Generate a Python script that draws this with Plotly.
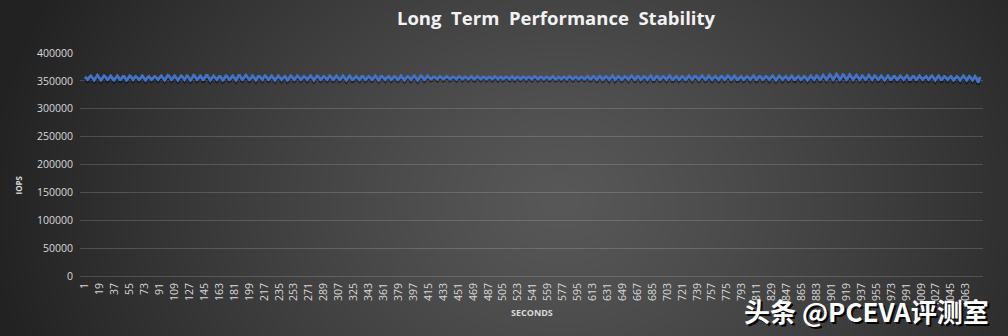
import base64
import struct
import zlib

import numpy as np
import plotly.graph_objects as go

# IOPS sampled once per second, in thousands (1080 samples)
iops_k = [
    357, 356, 354, 352, 353, 356, 358, 359, 357, 354, 352, 351, 353, 356, 358, 360, 358, 355,
    353, 351, 352, 355, 357, 359, 358, 356, 353, 352, 353, 355, 358, 359, 357, 354, 352, 351,
    353, 356, 358, 359, 357, 354, 352, 352, 354, 357, 358, 358, 356, 353, 351, 352, 355, 357,
    359, 358, 355, 353, 352, 354, 356, 358, 357, 355, 353, 352, 353, 356, 358, 359, 357, 354,
    352, 351, 353, 356, 357, 358, 356, 354, 352, 353, 355, 357, 358, 357, 355, 353, 352, 354,
    356, 358, 359, 357, 354, 352, 351, 353, 356, 358, 360, 359, 356, 353, 352, 353, 356, 358,
    359, 357, 355, 352, 351, 353, 355, 358, 359, 358, 355, 353, 352, 354, 357, 359, 358, 356,
    353, 351, 352, 355, 358, 360, 359, 356, 353, 352, 353, 356, 358, 359, 357, 354, 352, 352,
    354, 357, 359, 361, 358, 355, 352, 351, 353, 356, 358, 359, 357, 355, 353, 352, 354, 357,
    358, 358, 356, 353, 351, 352, 355, 357, 359, 358, 355, 353, 352, 353, 356, 358, 359, 357,
    354, 352, 351, 353, 356, 359, 361, 358, 355, 353, 352, 354, 357, 359, 360, 358, 355, 353,
    352, 353, 356, 358, 359, 357, 354, 352, 351, 353, 356, 358, 358, 356, 354, 352, 352, 355,
    357, 359, 358, 356, 353, 352, 353, 355, 358, 359, 357, 354, 352, 351, 353, 356, 358, 359,
    357, 355, 353, 352, 354, 356, 358, 358, 356, 353, 351, 352, 355, 357, 359, 358, 355, 353,
    352, 353, 356, 358, 359, 358, 355, 353, 352, 353, 355, 357, 358, 357, 355, 353, 352, 354,
    356, 358, 359, 357, 354, 352, 351, 353, 356, 358, 359, 358, 356, 353, 352, 353, 356, 357,
    358, 357, 355, 353, 352, 354, 357, 359, 358, 355, 353, 352, 353, 355, 358, 359, 357, 355,
    353, 352, 353, 356, 358, 359, 357, 354, 352, 351, 353, 356, 358, 359, 357, 354, 352, 352,
    354, 356, 358, 358, 356, 354, 352, 352, 354, 357, 358, 358, 356, 353, 352, 353, 355, 357,
    358, 357, 355, 353, 352, 353, 356, 358, 359, 357, 354, 352, 351, 353, 356, 358, 358, 356,
    354, 352, 352, 354, 356, 358, 358, 356, 353, 352, 353, 355, 357, 358, 357, 355, 353, 352,
    353, 356, 358, 359, 357, 354, 352, 351, 353, 355, 357, 358, 357, 355, 353, 352, 354, 356,
    358, 359, 357, 354, 352, 351, 353, 356, 358, 359, 358, 355, 353, 352, 353, 356, 358, 359,
    357, 355, 353, 353, 354, 356, 357, 357, 356, 354, 353, 353, 355, 357, 358, 357, 355, 354,
    353, 354, 356, 357, 358, 357, 355, 353, 353, 354, 356, 357, 357, 356, 354, 353, 353, 355,
    357, 358, 357, 355, 354, 353, 354, 356, 357, 357, 355, 354, 353, 354, 356, 357, 358, 356,
    354, 353, 353, 355, 357, 358, 357, 355, 354, 353, 354, 356, 357, 357, 356, 354, 353, 354,
    356, 357, 357, 355, 354, 353, 354, 356, 358, 357, 355, 353, 353, 355, 357, 357, 356, 354,
    353, 354, 356, 357, 357, 356, 354, 353, 353, 355, 357, 358, 356, 354, 353, 354, 356, 357,
    357, 355, 354, 353, 354, 356, 357, 357, 355, 354, 353, 355, 356, 357, 356, 355, 353, 353,
    355, 357, 358, 357, 355, 353, 353, 354, 356, 357, 357, 356, 354, 353, 354, 356, 357, 357,
    355, 354, 353, 354, 356, 357, 358, 356, 354, 353, 353, 355, 357, 357, 356, 354, 353, 354,
    356, 357, 357, 355, 354, 353, 355, 356, 358, 357, 355, 354, 353, 354, 356, 357, 357, 355,
    354, 353, 354, 356, 357, 357, 356, 354, 353, 354, 356, 357, 358, 356, 354, 353, 353, 355,
    357, 358, 357, 355, 353, 352, 353, 356, 358, 358, 356, 354, 352, 353, 355, 357, 358, 357,
    355, 353, 352, 354, 356, 358, 359, 357, 354, 352, 353, 355, 357, 358, 357, 355, 353, 352,
    353, 355, 357, 358, 357, 355, 353, 352, 354, 356, 358, 359, 357, 355, 353, 352, 353, 356,
    358, 358, 356, 354, 352, 353, 355, 357, 358, 357, 355, 353, 352, 354, 356, 358, 359, 357,
    354, 352, 352, 354, 357, 358, 358, 356, 354, 352, 353, 355, 357, 358, 357, 355, 353, 352,
    354, 356, 358, 359, 357, 354, 352, 352, 354, 356, 358, 358, 356, 354, 352, 353, 355, 357,
    358, 357, 355, 353, 352, 353, 356, 358, 359, 357, 355, 353, 352, 354, 357, 358, 358, 356,
    354, 352, 352, 354, 356, 358, 359, 357, 355, 353, 352, 353, 355, 358, 359, 357, 355, 353,
    352, 354, 356, 358, 358, 356, 354, 352, 352, 354, 357, 358, 358, 356, 353, 352, 353, 355,
    357, 359, 358, 356, 353, 352, 353, 355, 358, 359, 357, 354, 352, 352, 354, 356, 358, 358,
    356, 353, 352, 353, 355, 357, 358, 357, 355, 353, 352, 354, 356, 358, 359, 357, 354, 352,
    352, 354, 357, 358, 358, 356, 353, 352, 353, 355, 357, 358, 357, 355, 353, 352, 354, 356,
    358, 359, 357, 354, 352, 351, 353, 356, 358, 359, 357, 355, 353, 352, 354, 356, 358, 358,
    356, 353, 352, 353, 355, 358, 359, 357, 354, 352, 352, 354, 356, 358, 358, 356, 354, 352,
    353, 355, 357, 358, 357, 354, 352, 351, 353, 356, 358, 359, 357, 355, 353, 352, 354, 357,
    359, 358, 356, 353, 352, 353, 356, 358, 360, 358, 355, 353, 352, 354, 357, 359, 361, 359,
    356, 353, 352, 354, 357, 360, 362, 360, 357, 354, 352, 353, 356, 359, 361, 360, 357, 354,
    352, 353, 356, 359, 361, 359, 356, 353, 352, 354, 357, 359, 360, 358, 355, 353, 352, 354,
    357, 359, 358, 356, 353, 352, 353, 356, 358, 360, 358, 355, 353, 352, 354, 357, 359, 358,
    355, 353, 352, 353, 356, 358, 359, 357, 354, 352, 351, 353, 356, 358, 359, 357, 354, 352,
    352, 354, 357, 358, 358, 356, 353, 352, 353, 355, 358, 359, 357, 355, 353, 352, 354, 356,
    358, 359, 357, 354, 352, 352, 354, 357, 358, 358, 356, 353, 352, 353, 355, 358, 359, 357,
    355, 353, 352, 354, 356, 358, 358, 356, 353, 352, 353, 356, 358, 359, 357, 354, 352, 351,
    353, 356, 358, 359, 357, 354, 352, 352, 354, 357, 358, 357, 355, 353, 352, 354, 356, 358,
    358, 356, 353, 351, 352, 355, 357, 358, 357, 355, 352, 351, 353, 356, 358, 359, 357, 354,
    352, 351, 353, 356, 358, 357, 354, 352, 351, 353, 356, 358, 356, 352, 349, 347, 351, 357,
]
iops = [v * 1000 for v in iops_k]
seconds = list(range(1, len(iops) + 1))

# Category labels shown every 18 seconds
x_tick_vals = list(range(1, 1064, 18))
x_tick_text = [str(v) for v in x_tick_vals]
y_tick_vals = [0, 50000, 100000, 150000, 200000, 250000, 300000, 350000, 400000]
y_tick_text = [str(v) for v in y_tick_vals]

TITLE = "Long\u00a0 Term\u00a0 Performance\u00a0 Stability"
WATERMARK = "头条 @PCEVA评测室"

W, H = 1008, 336
L, R, T, B = 80, 25, 53, 60
PW, PH = W - L - R, H - T - B

LINE_BLUE = "#4472C4"
GRID = "rgba(255,255,255,0.16)"
TICK_FONT = "#d9d9d9"


def gray_png_uri(img):
    """Encode a 2-D uint8 array as a grayscale PNG data URI."""
    h, w = img.shape
    raw = b"".join(b"\x00" + img[r].tobytes() for r in range(h))

    def chunk(tag, data):
        c = struct.pack(">I", len(data)) + tag + data
        return c + struct.pack(">I", zlib.crc32(tag + data) & 0xFFFFFFFF)

    png = (b"\x89PNG\r\n\x1a\n"
           + chunk(b"IHDR", struct.pack(">IIBBBBB", w, h, 8, 0, 0, 0, 0))
           + chunk(b"IDAT", zlib.compress(raw, 9))
           + chunk(b"IEND", b""))
    return "data:image/png;base64," + base64.b64encode(png).decode()


# Radial dark-grey backdrop: lighter centre, darker edges
gw, gh = 504, 168
gx, gy = np.meshgrid(np.arange(gw) * 2.0, np.arange(gh) * 2.0)
dist = np.sqrt(((gx - 560) / 560.0) ** 2 + ((gy - 200) / 450.0) ** 2)
shade = np.clip(88 - 52 * np.clip(dist, 0, 1.3) ** 1.2, 34, 90).astype(np.uint8)
backdrop = gray_png_uri(shade)

x_range = [-5.03, 1083.6]
shadow_shift = 2 * 400000 / PH  # two pixels worth of IOPS

fig = go.Figure()
# base series on the main axes (keeps the grid and tick labels active)
fig.add_trace(go.Scatter(
    x=seconds, y=iops, mode="lines", name="IOPS", hoverinfo="skip",
    line=dict(color=LINE_BLUE, width=2.6), showlegend=False,
))
# soft drop shadow, drawn on an overlay axis shifted down by two pixels
fig.add_trace(go.Scatter(
    x=seconds, y=iops, mode="lines", yaxis="y2", hoverinfo="skip",
    line=dict(color="rgba(0,0,0,0.45)", width=3), showlegend=False,
))
# series again on top of its shadow
fig.add_trace(go.Scatter(
    x=seconds, y=iops, mode="lines", yaxis="y3", name="IOPS",
    line=dict(color=LINE_BLUE, width=2.6), showlegend=False,
))

fig.update_layout(
    width=W, height=H,
    margin=dict(l=L, r=R, t=T, b=B),
    paper_bgcolor="#2e2e2e",
    plot_bgcolor="rgba(0,0,0,0)",
    showlegend=False,
    title=dict(
        text=TITLE, x=556 / W, xref="container", xanchor="center",
        y=1 - 19 / H, yref="container", yanchor="middle",
        font=dict(family="Open Sans", size=18.5, color="#f2f2f2", weight="bold"),
    ),
    xaxis=dict(
        range=x_range, tickmode="array", tickvals=x_tick_vals, ticktext=x_tick_text,
        tickangle=-90, showgrid=False, zeroline=False, showline=False, ticks="",
        tickfont=dict(family="Open Sans", size=10.5, color=TICK_FONT),
        ticklabelstandoff=4,
    ),
    yaxis=dict(
        range=[0, 400000], tickmode="array", tickvals=y_tick_vals, ticktext=y_tick_text,
        showgrid=True, gridcolor=GRID, gridwidth=1,
        zeroline=True, zerolinecolor=GRID, zerolinewidth=1, ticks="",
        tickfont=dict(family="Open Sans", size=10.5, color=TICK_FONT),
        ticklabelstandoff=6,
    ),
    yaxis2=dict(range=[shadow_shift, 400000 + shadow_shift], overlaying="y",
                showgrid=False, zeroline=False, showticklabels=False, ticks=""),
    yaxis3=dict(range=[0, 400000], overlaying="y",
                showgrid=False, zeroline=False, showticklabels=False, ticks=""),
    images=[dict(
        source=backdrop, xref="paper", yref="paper",
        x=-L / PW, y=1 + T / PH, sizex=W / PW, sizey=H / PH,
        xanchor="left", yanchor="top", sizing="stretch", layer="below",
    )],
)


def px_to_paper(px, py):
    return (px - L) / PW, (H - B - py) / PH


annotations = []
ax, ay = px_to_paper(11, 185)
annotations.append(dict(
    text="IOPS", x=ax, y=ay, xref="paper", yref="paper", showarrow=False,
    textangle=-90, font=dict(family="Open Sans", size=8, color=TICK_FONT, weight="bold"),
))
sx, sy = px_to_paper(532, 321)
annotations.append(dict(
    text="SECONDS", x=sx, y=sy, xref="paper", yref="paper", showarrow=False,
    font=dict(family="Open Sans", size=9, color=TICK_FONT, weight="bold"),
))
wx, wy = px_to_paper(866, 310)
for dx, dy, col in [(2, 2, "rgba(0,0,0,0.9)"), (0, 0, "#ffffff")]:
    annotations.append(dict(
        text=WATERMARK, x=wx + dx / PW, y=wy - dy / PH, xref="paper", yref="paper",
        showarrow=False, xanchor="center", yanchor="middle",
        font=dict(family="Noto Sans CJK SC", size=26, color=col, weight="bold"),
    ))
fig.update_layout(annotations=annotations)

fig.write_html("out.html")
